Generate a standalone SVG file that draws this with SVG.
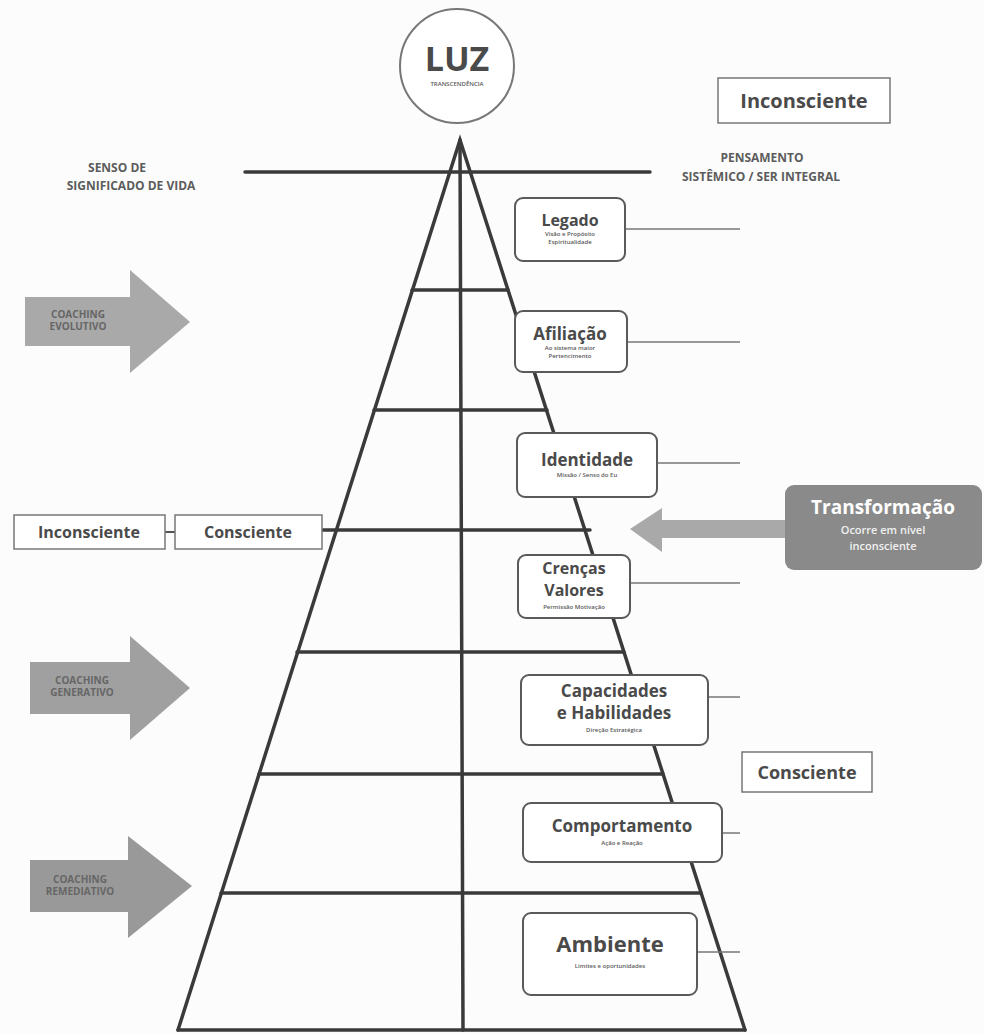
<svg xmlns="http://www.w3.org/2000/svg" width="984" height="1034" viewBox="0 0 984 1034">
<style>
.t{font-family:"Open Sans","Liberation Sans",sans-serif;fill:#4a4a4a;text-anchor:middle;font-weight:700}
.s{font-family:"Open Sans","Liberation Sans",sans-serif;fill:#5a5a5a;text-anchor:middle;font-weight:600;font-size:6px}
.cap{font-family:"Open Sans","Liberation Sans",sans-serif;fill:#5c5c5c;text-anchor:middle;font-weight:700;font-size:12px}
.box{fill:#fff;stroke:#5a5a5a;stroke-width:2}
.lbl{fill:#fff;stroke:#777;stroke-width:1.5}
.py{stroke:#3a3a3a;stroke-width:3.5;fill:none;stroke-linecap:round}
.tick{stroke:#777;stroke-width:1.5}
.arr{fill:#a9a9a9}
.at{font-family:"Open Sans","Liberation Sans",sans-serif;fill:#666;text-anchor:middle;font-weight:700;font-size:10px}
</style>
<rect width="984" height="1034" fill="#fcfcfc"/>

<g id="connectors">
  <line class="py" x1="245" y1="172" x2="650" y2="172"/>
  <polyline class="py" points="178,1030 460,140 745,1030"/>
  <line class="py" x1="178" y1="1030" x2="745" y2="1030"/>
  <line class="py" x1="460" y1="140" x2="463" y2="1030"/>
  <line class="py" x1="412" y1="290" x2="508" y2="290"/>
  <line class="py" x1="374" y1="410" x2="547" y2="410"/>
  <line class="py" x1="322" y1="530" x2="590" y2="530"/>
  <line class="py" x1="297" y1="652" x2="624" y2="652"/>
  <line class="py" x1="259" y1="774" x2="663" y2="774"/>
  <line class="py" x1="221" y1="893" x2="701" y2="893"/>
  <line class="tick" x1="625" y1="229" x2="740" y2="229"/>
  <line class="tick" x1="627" y1="342" x2="740" y2="342"/>
  <line class="tick" x1="657" y1="463" x2="740" y2="463"/>
  <line class="tick" x1="630" y1="583" x2="740" y2="583"/>
  <line class="tick" x1="708" y1="697" x2="740" y2="697"/>
  <line class="tick" x1="722" y1="833" x2="740" y2="833"/>
  <line class="tick" x1="697" y1="952" x2="740" y2="952"/>
  <line x1="165" y1="532" x2="175" y2="532" stroke="#555" stroke-width="2"/>
  <polygon class="arr" points="785,520 662,520 662,508 630,529 662,552 662,538 785,538"/>
</g>

<g id="luz">
  <circle cx="457" cy="66" r="57" fill="#fff" stroke="#777" stroke-width="2"/>
  <text class="t" x="457" y="71" font-size="34" fill="#555">LUZ</text>
  <text class="s" x="457" y="86" font-size="5.5">TRANSCENDÊNCIA</text>
</g>

<g id="senso">
  <text class="cap" x="117" y="172">SENSO DE</text>
  <text class="cap" x="131" y="190">SIGNIFICADO DE VIDA</text>
</g>
<g id="pensamento">
  <text class="cap" x="762" y="162">PENSAMENTO</text>
  <text class="cap" x="761" y="181">SISTÊMICO / SER INTEGRAL</text>
</g>

<g id="inconsciente-top">
  <rect class="lbl" x="718" y="78" width="172" height="45"/>
  <text class="t" x="804" y="108" font-size="20" font-weight="600">Inconsciente</text>
</g>

<g id="legado">
  <rect class="box" x="515" y="198" width="110" height="63" rx="8"/>
  <text class="t" x="570" y="226" font-size="16">Legado</text>
  <text class="s" x="570" y="236">Visão e Propósito</text>
  <text class="s" x="570" y="244">Espiritualidade</text>
</g>
<g id="afiliacao">
  <rect class="box" x="515" y="311" width="112" height="61" rx="8"/>
  <text class="t" x="570" y="340" font-size="17">Afiliação</text>
  <text class="s" x="570" y="350">Ao sistema maior</text>
  <text class="s" x="570" y="358">Pertencimento</text>
</g>
<g id="identidade">
  <rect class="box" x="517" y="433" width="140" height="64" rx="8"/>
  <text class="t" x="587" y="466" font-size="17">Identidade</text>
  <text class="s" x="587" y="477">Missão / Senso do Eu</text>
</g>
<g id="crencas">
  <rect class="box" x="518" y="555" width="112" height="63" rx="8"/>
  <text class="t" x="574" y="574" font-size="16">Crenças</text>
  <text class="t" x="574" y="596" font-size="16">Valores</text>
  <text class="s" x="574" y="609">Permissão Motivação</text>
</g>
<g id="capacidades">
  <rect class="box" x="521" y="675" width="187" height="70" rx="8"/>
  <text class="t" x="614" y="697" font-size="17">Capacidades</text>
  <text class="t" x="614" y="719" font-size="17">e Habilidades</text>
  <text class="s" x="614" y="732">Direção Estratégica</text>
</g>
<g id="comportamento">
  <rect class="box" x="523" y="803" width="199" height="59" rx="8"/>
  <text class="t" x="622" y="832" font-size="17">Comportamento</text>
  <text class="s" x="622" y="845" font-size="7">Ação e Reação</text>
</g>
<g id="ambiente">
  <rect class="box" x="523" y="913" width="174" height="82" rx="8"/>
  <text class="t" x="610" y="952" font-size="22">Ambiente</text>
  <text class="s" x="610" y="968">Limites e oportunidades</text>
</g>

<g id="consciente-right">
  <rect class="lbl" x="742" y="752" width="130" height="40"/>
  <text class="t" x="807" y="779" font-size="18" font-weight="600">Consciente</text>
</g>

<g id="inconsciente-left">
  <rect class="lbl" x="14" y="515" width="151" height="34"/>
  <text class="t" x="89" y="538" font-size="16" font-weight="600">Inconsciente</text>
</g>
<g id="consciente-left">
  <rect class="lbl" x="175" y="515" width="147" height="34"/>
  <text class="t" x="248" y="538" font-size="16" font-weight="600">Consciente</text>
</g>

<g id="transformacao">
  <rect x="785" y="485" width="197" height="85" rx="9" fill="#8a8a8a"/>
  <text class="t" x="883" y="514" font-size="19" style="fill:#fff">Transformação</text>
  <text class="s" x="883" y="534" style="fill:#f0f0f0;font-size:11px">Ocorre em nível</text>
  <text class="s" x="883" y="550" style="fill:#f0f0f0;font-size:11px">inconsciente</text>
</g>

<g id="coaching-evolutivo">
  <polygon class="arr" points="25,297 130,297 130,270 190,322 130,373 130,346 25,346"/>
  <text class="at" x="78" y="318">COACHING</text>
  <text class="at" x="78" y="330">EVOLUTIVO</text>
</g>
<g id="coaching-generativo">
  <polygon class="arr" points="30,662 130,662 130,636 190,688 130,740 130,714 30,714" style="fill:#a0a0a0"/>
  <text class="at" x="82" y="684">COACHING</text>
  <text class="at" x="82" y="696">GENERATIVO</text>
</g>
<g id="coaching-remediativo">
  <polygon class="arr" points="30,860 128,860 128,836 192,886 128,938 128,912 30,912" style="fill:#999"/>
  <text class="at" x="80" y="883">COACHING</text>
  <text class="at" x="80" y="895">REMEDIATIVO</text>
</g>
</svg>
